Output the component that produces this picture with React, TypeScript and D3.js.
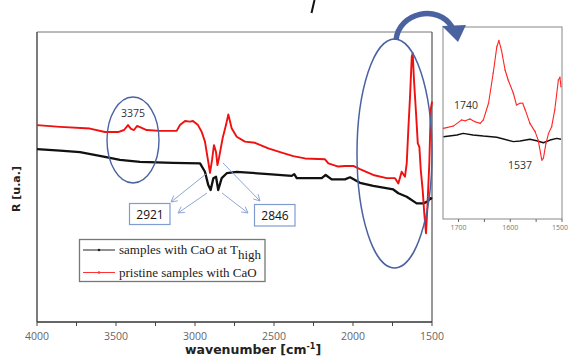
import React from "react";
import * as d3 from "d3";

// ---- Main plot data (wavenumber cm^-1, reflectance a.u.) ----
const highWn = [4000, 3854, 3728, 3570, 3475, 3348, 3139, 2968, 2937, 2916, 2901, 2884, 2867, 2853, 2831, 2799, 2736, 2536, 2388, 2372, 2356, 2198, 2173, 2135, 2051, 2019, 1956, 1872, 1745, 1713, 1660, 1597, 1555, 1530, 1508, 1500];
const highR = [59.6, 59.1, 58.6, 56.9, 55.9, 55.2, 54.9, 54.7, 51.8, 47.2, 45.5, 49.6, 50.1, 45.5, 49.6, 51.3, 51.8, 51.0, 50.4, 51.0, 49.6, 49.6, 50.7, 49.2, 49.2, 49.9, 48.0, 46.9, 45.7, 44.4, 43.2, 40.9, 40.9, 41.5, 42.7, 42.4];

const pristineWn = [4000, 3854, 3665, 3570, 3487, 3449, 3424, 3405, 3386, 3367, 3348, 3306, 3222, 3116, 3095, 3063, 3032, 3013, 2981, 2958, 2937, 2916, 2905, 2892, 2880, 2867, 2858, 2848, 2825, 2804, 2789, 2768, 2736, 2684, 2620, 2536, 2451, 2378, 2304, 2177, 2156, 2093, 2051, 1998, 1956, 1872, 1787, 1734, 1713, 1692, 1671, 1660, 1650, 1639, 1628, 1622, 1614, 1601, 1590, 1580, 1571, 1559, 1549, 1538, 1530, 1517, 1508, 1500];
const pristineR = [67.9, 67.3, 66.7, 65.5, 65.5, 66.2, 67.9, 66.6, 66.2, 67.6, 67.2, 66.2, 65.9, 65.9, 67.9, 69.3, 69.1, 69.3, 67.9, 65.6, 62.2, 55.2, 51.4, 55.9, 61.0, 58.6, 54.1, 56.6, 63.4, 67.9, 71.6, 66.8, 63.9, 62.2, 61.8, 59.9, 58.4, 57.2, 56.4, 56.1, 54.7, 53.6, 53.8, 53.8, 52.7, 50.7, 49.6, 49.6, 47.8, 51.8, 50.1, 54.7, 66.2, 77.7, 91.5, 92.7, 83.4, 72.0, 61.6, 60.4, 52.4, 45.5, 37.5, 30.6, 38.6, 54.7, 73.1, 76.0];

// ---- Inset data ----
const insetHighWn = [1729, 1703, 1691, 1672, 1652, 1626, 1594, 1581, 1562, 1549, 1536, 1523, 1510, 1502];
const insetHighR = [42.9, 43.8, 44.6, 43.8, 43.2, 42.6, 40.3, 40.6, 41.5, 40.8, 39.7, 41.1, 42.0, 41.5];
const insetPristineWn = [1729, 1710, 1694, 1687, 1678, 1668, 1658, 1652, 1642, 1633, 1626, 1622, 1617, 1610, 1604, 1594, 1588, 1581, 1576, 1571, 1562, 1552, 1546, 1539, 1536, 1531, 1526, 1520, 1514, 1507, 1504, 1502];
const insetPristineR = [47.2, 48.4, 51.6, 51.2, 52.1, 50.7, 49.8, 51.6, 60.3, 75.9, 89.7, 92.9, 88.0, 77.6, 72.4, 65.5, 59.4, 60.3, 60.3, 56.8, 49.8, 45.5, 41.1, 30.7, 31.6, 39.4, 44.6, 48.1, 56.8, 72.4, 73.8, 68.9];

const mainTicks = [4000, 3500, 3000, 2500, 2000, 1500];
const mainMinorTicks = [3750, 3250, 2750, 2250, 1750];
const insetTicks = [1700, 1600, 1500];
const insetMinorTicks = [1650, 1550];

const legendLabels = ["samples with CaO at T", "pristine samples with CaO"];
const legendSub = "high";

type P = [number, number];
const zip = (a: number[], b: number[]): P[] => a.map((v, i) => [v, b[i]]);

export default function App() {
  // main scales
  const x = d3.scaleLinear().domain([4000, 1500]).range([37, 432]);
  const y = d3.scaleLinear().domain([0, 100]).range([322, 32]);
  // inset scales
  const xi = d3.scaleLinear().domain([1730, 1500]).range([443, 562]);
  const yi = d3.scaleLinear().domain([0, 100]).range([219, 27]);

  const line = d3.line<P>().x((d) => x(d[0])).y((d) => y(d[1]));
  const lineI = d3.line<P>().x((d) => xi(d[0])).y((d) => yi(d[1]));

  const highPts = zip(highWn, highR);
  const pristPts = zip(pristineWn, pristineR);
  const iHigh = zip(insetHighWn, insetHighR);
  const iPrist = zip(insetPristineWn, insetPristineR);

  const blue = "#4a63a0";
  const lightBlue = "#8ea6d6";
  const sans = "'Open Sans', 'Liberation Sans', sans-serif";

  const arrowLines: [number, number, number, number][] = [
    [206, 174, 171, 202],
    [207, 193, 178, 213],
    [223, 163, 260, 201],
    [222, 193, 248, 213],
  ];

  const head = (x1: number, y1: number, x2: number, y2: number) => {
    const a = Math.atan2(y2 - y1, x2 - x1);
    const L = 7, w = 0.5;
    return `M${x2 - L * Math.cos(a - w)},${y2 - L * Math.sin(a - w)} L${x2},${y2} L${x2 - L * Math.cos(a + w)},${y2 - L * Math.sin(a + w)}`;
  };

  return (
    <svg width={569} height={357} style={{ position: "absolute", left: 0, top: 0, background: "#fff" }}>
      <rect x={0} y={0} width={569} height={357} fill="#fff" />
      {/* clipped glyph at top */}
      <line x1={314.5} y1={0} x2={311.5} y2={13} stroke="#111" strokeWidth={2} />

      {/* main frame */}
      <line x1={37} y1={32} x2={432} y2={32} stroke="#777" strokeWidth={1} />
      <line x1={432} y1={32} x2={432} y2={322} stroke="#555" strokeWidth={1.2} />
      <line x1={37} y1={32} x2={37} y2={322} stroke="#444" strokeWidth={1.4} />
      <line x1={37} y1={322} x2={432} y2={322} stroke="#333" strokeWidth={1.4} />
      {mainTicks.concat(mainMinorTicks).map((t) => (
        <line key={"mt" + t} x1={x(t)} x2={x(t)} y1={322} y2={326} stroke="#444" strokeWidth={1} />
      ))}
      {mainTicks.map((t) => (
        <text key={"ml" + t} x={x(t)} y={340} textAnchor="middle" fontFamily={sans} fontSize={10.5} fill="#666">
          {t}
        </text>
      ))}
      <text x={185} y={354} fontFamily="'DejaVu Sans', sans-serif" fontWeight="bold" fontSize={12.5} fill="#222">
        wavenumber [cm<tspan dy={-5} fontSize={8}>-1</tspan><tspan dy={5}>]</tspan>
      </text>
      <text transform="translate(20,189) rotate(-90)" textAnchor="middle" fontFamily="'DejaVu Sans', sans-serif" fontWeight="bold" fontSize={11} fill="#222">
        R [u.a.]
      </text>

      {/* series */}
      <path d={line(highPts) || ""} fill="none" stroke="#111" strokeWidth={2.3} strokeLinejoin="round" />
      <path d={line(pristPts) || ""} fill="none" stroke="#f01010" strokeWidth={1.9} strokeLinejoin="round" />

      {/* ellipses */}
      <ellipse cx={133} cy={140} rx={26} ry={43} fill="none" stroke={blue} strokeWidth={1.4} />
      <ellipse cx={394.5} cy={153.5} rx={37.5} ry={114.5} fill="none" stroke={blue} strokeWidth={1.5} />
      <text x={133} y={117} textAnchor="middle" fontFamily={sans} fontSize={10.5} fill="#333">3375</text>

      {/* peak arrows */}
      {arrowLines.map(([a, b, c, d], i) => (
        <g key={"al" + i}>
          <line x1={a} y1={b} x2={c} y2={d} stroke={lightBlue} strokeWidth={1} />
          <path d={head(a, b, c, d)} fill="none" stroke={lightBlue} strokeWidth={1} />
        </g>
      ))}
      <rect x={129.5} y={203.5} width={40.5} height={21} fill="#fff" stroke="#7f9bd0" strokeWidth={1.2} />
      <text x={150} y={218.5} textAnchor="middle" fontFamily={sans} fontSize={12} fill="#111">2921</text>
      <rect x={254.5} y={204.5} width={40.5} height={21.5} fill="#fff" stroke="#7f9bd0" strokeWidth={1.2} />
      <text x={275} y={219.5} textAnchor="middle" fontFamily={sans} fontSize={12} fill="#111">2846</text>

      {/* legend */}
      <rect x={79.5} y={239.5} width={185.5} height={42} fill="#fff" stroke="#777" strokeWidth={1.3} />
      <line x1={83} x2={115} y1={250} y2={250} stroke="#222" strokeWidth={1} />
      <circle cx={99} cy={250} r={1.3} fill="#222" />
      <line x1={83} x2={115} y1={272.5} y2={272.5} stroke="#f33" strokeWidth={1} />
      <circle cx={99} cy={272.5} r={1.3} fill="#f33" />
      <text x={119} y={254} fontFamily="'Liberation Serif', serif" fontSize={13} fill="#222">
        {legendLabels[0]}
        <tspan dy={5} fontSize={13}>{legendSub}</tspan>
      </text>
      <text x={119} y={277} fontFamily="'Liberation Serif', serif" fontSize={13} fill="#222">
        {legendLabels[1]}
      </text>

      {/* inset */}
      <rect x={443} y={27} width={119} height={192} fill="#fff" stroke="#888" strokeWidth={1} />
      <path d={lineI(iHigh) || ""} fill="none" stroke="#111" strokeWidth={1.5} strokeLinejoin="round" />
      <path d={lineI(iPrist) || ""} fill="none" stroke="#f22" strokeWidth={1.1} strokeLinejoin="round" />
      {iPrist.map((p, i) => (
        <circle key={"ip" + i} cx={xi(p[0])} cy={yi(p[1])} r={0.8} fill="#f44" />
      ))}
      {insetTicks.concat(insetMinorTicks).map((t) => (
        <line key={"it" + t} x1={xi(t)} x2={xi(t)} y1={219} y2={222} stroke="#666" strokeWidth={1} />
      ))}
      {insetTicks.map((t) => (
        <text key={"il" + t} x={Math.min(xi(t), 560)} y={230} textAnchor="middle" fontFamily={sans} fontSize={7} fill="#777">
          {t}
        </text>
      ))}
      <text x={466} y={109} textAnchor="middle" fontFamily={sans} fontSize={10.5} fill="#333">1740</text>
      <text x={520} y={169} textAnchor="middle" fontFamily={sans} fontSize={10.5} fill="#333">1537</text>

      {/* curved arrow to inset (drawn on top) */}
      <path d="M396,40 C399,12 438,4 452,27" fill="none" stroke={blue} strokeWidth={5.5} />
      <path d="M442,26 L466,25 L458,42 Z" fill={blue} />
    </svg>
  );
}
